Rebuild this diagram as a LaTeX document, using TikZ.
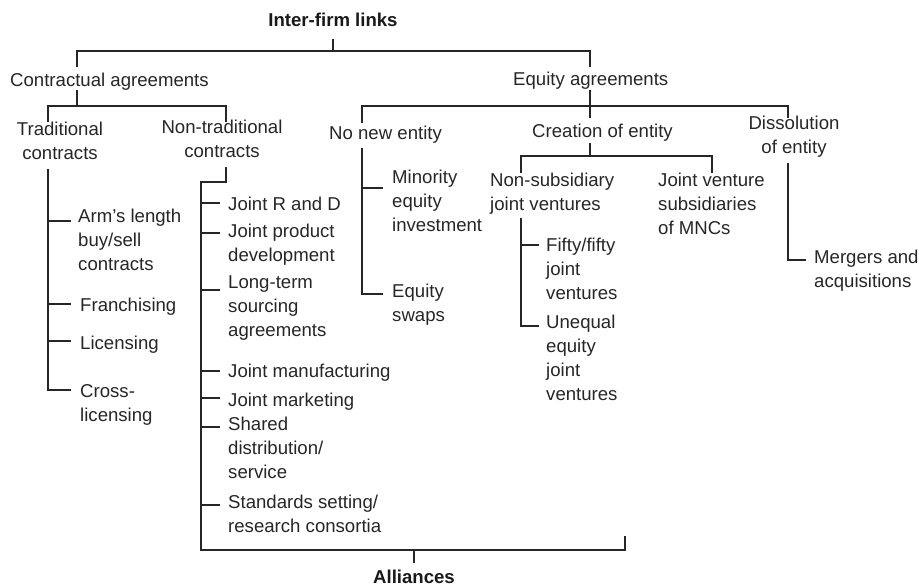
\documentclass[tikz,border=0pt]{standalone}
\usepackage{fontspec}
\setmainfont{Liberation Sans}
\begin{document}
\begin{tikzpicture}[x=1pt,y=-1pt,
  lbl/.style={inner sep=0pt, align=left, anchor=north west, text=black!85,
    font={\fontsize{18.6}{24}\selectfont}, execute at begin node=\strut},
  clbl/.style={lbl, align=center, anchor=north},
  ttl/.style={clbl, font={\fontsize{18.6}{24}\selectfont\bfseries}, text=black!90},
  conn/.style={draw=black!85, line width=1.4pt}]
\useasboundingbox (0,0) rectangle (919,586);
% ---- nodes (top = baseline - 16.8) ----
\node[ttl] (top) at (333,9.2) {Inter-firm links};
\node[lbl] (contr) at (10,69.2) {Contractual agreements};
\node[lbl] (equity) at (513,68.2) {Equity agreements};
\node[clbl] (trad) at (60,122.2) {Traditional\\contracts};
\node[clbl] (nontrad) at (222,120.2) {Non-traditional\\contracts};
\node[lbl] (nonew) at (329,122.2) {No new entity};
\node[lbl] (creation) at (532,120.2) {Creation of entity};
\node[clbl] (dissol) at (794,116.2) {Dissolution\\of entity};
\node[lbl] (arms) at (78,209) {Arm's length\\buy/sell\\contracts};
\node[lbl] (franch) at (80,294) {Franchising};
\node[lbl] (licen) at (80,332) {Licensing};
\node[lbl] (cross) at (80,384) {Cross-\\licensing};
\node[lbl] (jrd) at (228,193) {Joint R and D};
\node[lbl] (jpd) at (228,224) {Joint product\\development};
\node[lbl] (lts) at (228,276) {Long-term\\sourcing\\agreements};
\node[lbl] (jman) at (228,360) {Joint manufacturing};
\node[lbl] (jmar) at (228,389) {Joint marketing};
\node[lbl] (shared) at (228,417) {Shared\\distribution/\\service};
\node[lbl] (stand) at (228,495) {Standards setting/\\research consortia};
\node[lbl] (minor) at (392,170) {Minority\\equity\\investment};
\node[lbl] (swaps) at (392,284) {Equity\\swaps};
\node[lbl] (nonsub) at (490,173) {Non-subsidiary\\joint ventures};
\node[lbl] (jvsub) at (658,173) {Joint venture\\subsidiaries\\of MNCs};
\node[lbl] (fifty) at (546,238) {Fifty/fifty\\joint\\ventures};
\node[lbl] (unequal) at (546,315) {Unequal\\equity\\joint\\ventures};
\node[lbl] (merg) at (814,250) {Mergers and\\acquisitions};
\node[inner sep=0pt, anchor=base, text=black!90,
  font={\fontsize{18.6}{24}\selectfont\bfseries}] (alli) at (414,583) {Alliances};
% ---- connectors ----
\draw[conn] (333,39) -- (333,51);
\draw[conn] (77,67) -- (77,51) -- (590,51) -- (590,67);
\draw[conn] (77,90) -- (77,106);
\draw[conn] (48,122) -- (48,106) -- (226,106) -- (226,122);
\draw[conn] (590,90) -- (590,118);
\draw[conn] (362,123) -- (362,106) -- (788,106) -- (788,118);
% traditional
\draw[conn] (48,169) -- (48,390) -- (71,390);
\foreach \y in {221,304,341} \draw[conn] (48,\y) -- (71,\y);
% non-traditional
\draw[conn] (226,167) -- (226,182) -- (201,182) -- (201,550) -- (625,550) -- (625,536);
\foreach \y in {203,233,290,371,398,427,505} \draw[conn] (201,\y) -- (220,\y);
\draw[conn] (414,550) -- (414,563);
% no new entity
\draw[conn] (362,148) -- (362,294) -- (383,294);
\draw[conn] (362,188) -- (383,188);
% creation of entity
\draw[conn] (590,143) -- (590,156);
\draw[conn] (521,173) -- (521,156) -- (712,156) -- (712,173);
\draw[conn] (521,218) -- (521,326) -- (539,326);
\draw[conn] (521,245) -- (539,245);
% dissolution
\draw[conn] (788,163) -- (788,260) -- (806,260);
\end{tikzpicture}
\end{document}
